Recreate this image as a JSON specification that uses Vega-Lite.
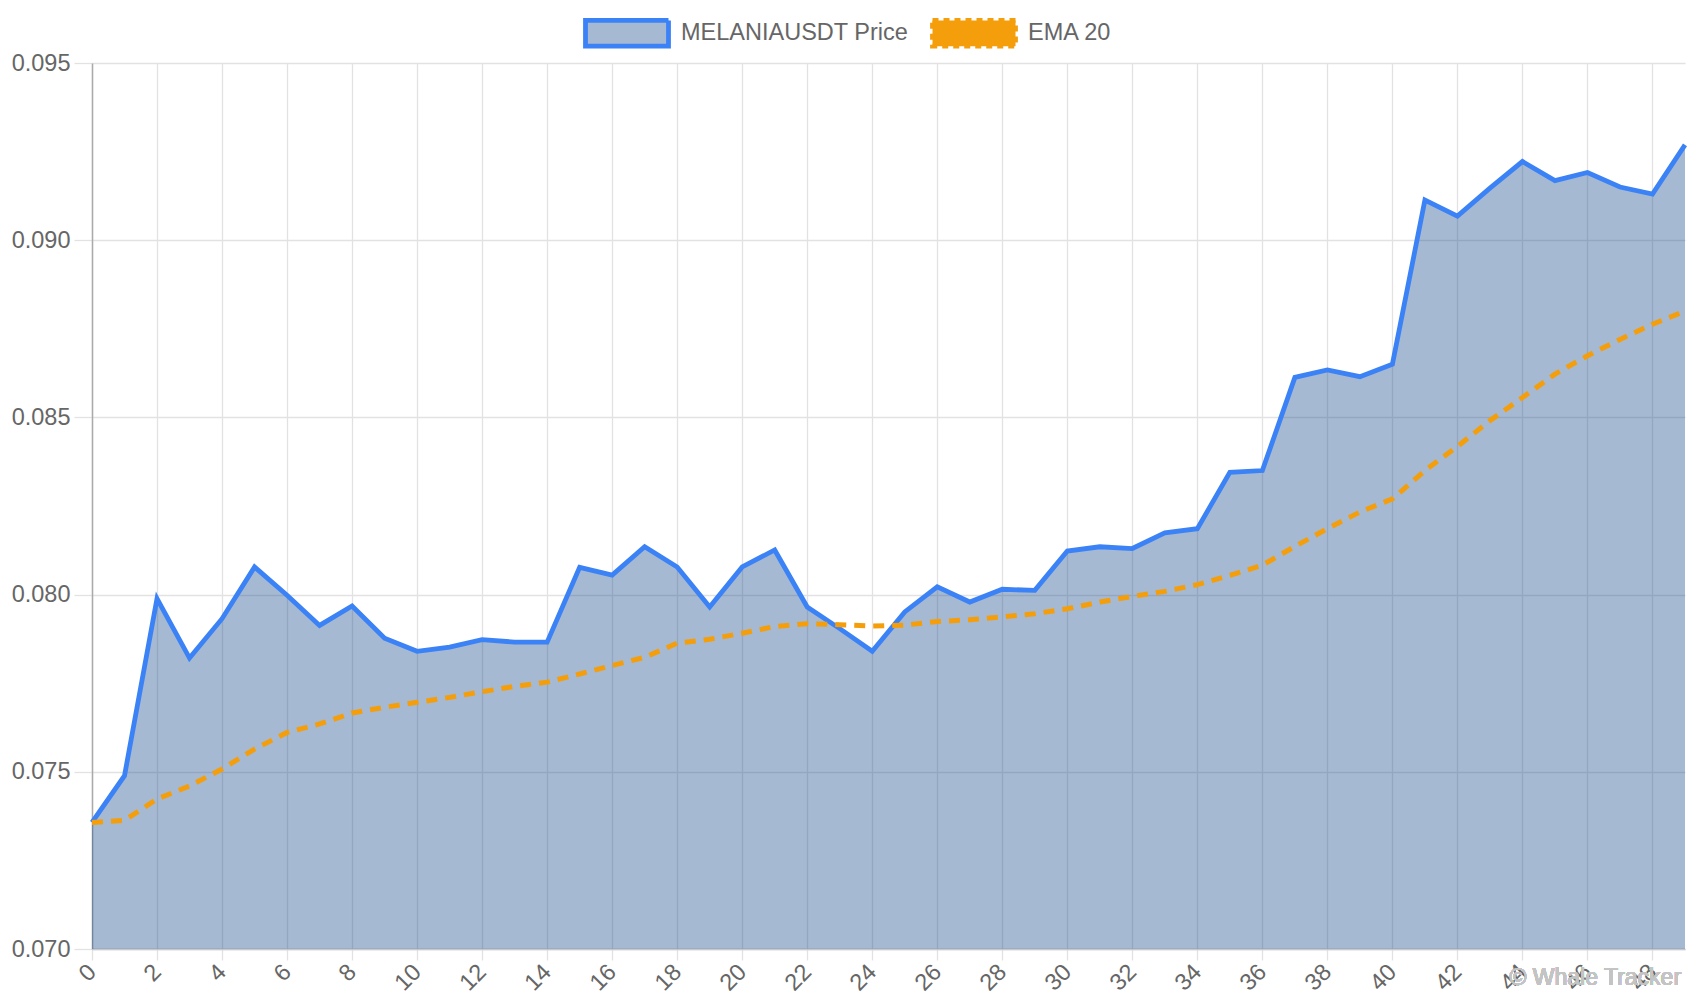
{
  "$schema": "https://vega.github.io/schema/vega-lite/v6.json",
  "width": 1593,
  "height": 886,
  "autosize": "none",
  "padding": {"left": 92, "top": 63, "right": 15, "bottom": 51},
  "background": "white",
  "config": {
    "font": "Liberation Sans",
    "view": {"stroke": null},
    "axis": {"labelFont": "Liberation Sans", "labelFontSize": 23.5, "labelColor": "#666666", "gridColor": "#e2e2e2", "gridWidth": 1.3, "tickColor": "#e2e2e2", "tickWidth": 1.3, "title": null}
  },
  "data": {
    "values": [
      {"i": 0, "price": 0.07357, "ema": 0.07357},
      {"i": 1, "price": 0.07489, "ema": 0.07363},
      {"i": 2, "price": 0.07989, "ema": 0.07423},
      {"i": 3, "price": 0.07821, "ema": 0.07460},
      {"i": 4, "price": 0.07932, "ema": 0.07508},
      {"i": 5, "price": 0.08078, "ema": 0.07564},
      {"i": 6, "price": 0.07998, "ema": 0.07611},
      {"i": 7, "price": 0.07913, "ema": 0.07635},
      {"i": 8, "price": 0.07968, "ema": 0.07666},
      {"i": 9, "price": 0.07877, "ema": 0.07682},
      {"i": 10, "price": 0.07840, "ema": 0.07696},
      {"i": 11, "price": 0.07852, "ema": 0.07710},
      {"i": 12, "price": 0.07873, "ema": 0.07726},
      {"i": 13, "price": 0.07866, "ema": 0.07741},
      {"i": 14, "price": 0.07866, "ema": 0.07753},
      {"i": 15, "price": 0.08077, "ema": 0.07776},
      {"i": 16, "price": 0.08055, "ema": 0.07800},
      {"i": 17, "price": 0.08135, "ema": 0.07823},
      {"i": 18, "price": 0.08078, "ema": 0.07863},
      {"i": 19, "price": 0.07965, "ema": 0.07874},
      {"i": 20, "price": 0.08078, "ema": 0.07891},
      {"i": 21, "price": 0.08126, "ema": 0.07910},
      {"i": 22, "price": 0.07965, "ema": 0.07918},
      {"i": 23, "price": 0.07904, "ema": 0.07915},
      {"i": 24, "price": 0.07840, "ema": 0.07911},
      {"i": 25, "price": 0.07951, "ema": 0.07914},
      {"i": 26, "price": 0.08022, "ema": 0.07924},
      {"i": 27, "price": 0.07979, "ema": 0.07929},
      {"i": 28, "price": 0.08015, "ema": 0.07937},
      {"i": 29, "price": 0.08012, "ema": 0.07946},
      {"i": 30, "price": 0.08123, "ema": 0.07960},
      {"i": 31, "price": 0.08135, "ema": 0.07979},
      {"i": 32, "price": 0.08130, "ema": 0.07995},
      {"i": 33, "price": 0.08174, "ema": 0.08009},
      {"i": 34, "price": 0.08186, "ema": 0.08028},
      {"i": 35, "price": 0.08345, "ema": 0.08054},
      {"i": 36, "price": 0.08350, "ema": 0.08083},
      {"i": 37, "price": 0.08613, "ema": 0.08136},
      {"i": 38, "price": 0.08634, "ema": 0.08186},
      {"i": 39, "price": 0.08615, "ema": 0.08233},
      {"i": 40, "price": 0.08650, "ema": 0.08270},
      {"i": 41, "price": 0.09113, "ema": 0.08350},
      {"i": 42, "price": 0.09068, "ema": 0.08418},
      {"i": 43, "price": 0.09147, "ema": 0.08491},
      {"i": 44, "price": 0.09222, "ema": 0.08556},
      {"i": 45, "price": 0.09168, "ema": 0.08622},
      {"i": 46, "price": 0.09191, "ema": 0.08674},
      {"i": 47, "price": 0.09150, "ema": 0.08720},
      {"i": 48, "price": 0.09130, "ema": 0.08763},
      {"i": 49, "price": 0.09269, "ema": 0.08800}
    ]
  },
  "encoding": {
    "x": {
      "field": "i", "type": "quantitative",
      "scale": {"domain": [0, 49], "nice": false, "zero": false},
      "axis": {
        "values": [0, 2, 4, 6, 8, 10, 12, 14, 16, 18, 20, 22, 24, 26, 28, 30, 32, 34, 36, 38, 40, 42, 44, 46, 48],
        "labelAngle": -45, "labelAlign": "right", "labelBaseline": "middle",
        "labelPadding": 8, "tickSize": 11, "domainColor": "#c8c8c8", "domainWidth": 1.3,
        "labelOverlap": false, "labelFlush": false
      }
    }
  },
  "layer": [
    {
      "mark": {"type": "area", "color": "#1f4f8f", "fillOpacity": 0.4, "opacity": 1},
      "encoding": {
        "y": {
          "field": "price", "type": "quantitative",
          "scale": {"domain": [0.07, 0.095], "nice": false, "zero": false},
          "axis": {
            "values": [0.07, 0.075, 0.08, 0.085, 0.09, 0.095], "format": ".3f",
            "tickSize": 18, "labelPadding": 4, "domainColor": "#aaaaaa", "domainWidth": 1.5,
            "labelOverlap": false, "labelFlush": false
          }
        },
        "y2": {"datum": 0.07}
      }
    },
    {
      "mark": {"type": "line", "strokeWidth": 4.8, "strokeJoin": "miter", "strokeCap": "butt"},
      "encoding": {
        "y": {"field": "price", "type": "quantitative"},
        "color": {
          "datum": "MELANIAUSDT Price",
          "scale": {"domain": ["MELANIAUSDT Price", "EMA 20"], "range": ["#3b82f6", "#f59e0b"]},
          "legend": {
            "title": null, "orient": "none", "legendX": 491, "legendY": -74, "direction": "horizontal",
            "symbolType": "M-1,-0.31H1V0.31H-1Z", "symbolSize": 6889, "symbolStrokeWidth": 4.8,
            "labelFont": "Liberation Sans", "labelFontSize": 23.5, "labelColor": "#666666", "labelLimit": 500,
            "labelOffset": 10, "columnPadding": 13, "symbolOpacity": 1,
            "encode": {
              "symbols": {
                "update": {
                  "fill": [{"test": "datum.label === 'EMA 20'", "value": "#f59e0b"}, {"value": "#a6b9d3"}],
                  "fillOpacity": {"value": 1},
                  "strokeDash": [{"test": "datum.label === 'EMA 20'", "value": [6, 5]}, {"value": [1, 0]}]
                }
              }
            }
          }
        }
      }
    },
    {
      "mark": {"type": "line", "strokeWidth": 5, "strokeDash": [11, 8], "strokeCap": "butt"},
      "encoding": {
        "y": {"field": "ema", "type": "quantitative"},
        "color": {"datum": "EMA 20"}
      }
    },
    {
      "mark": {"type": "text", "text": "© Whale Tracker", "align": "left", "baseline": "middle", "fontSize": 23, "font": "Liberation Sans", "color": "#c4c4c4", "opacity": 0.8},
      "encoding": {
        "x": {"datum": 43.6},
        "y": {"datum": 0.06918}
      }
    }
  ]
}
